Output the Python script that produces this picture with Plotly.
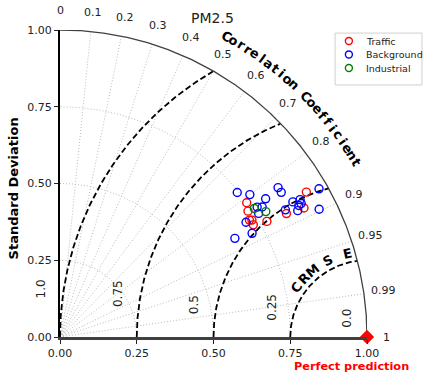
import numpy as np
import plotly.graph_objects as go

# ---------------- data (standard deviation, correlation) ----------------
traffic_std = [0.749, 0.737, 0.931, 0.899, 0.840, 0.772, 0.732, 0.728, 0.725]
traffic_corr = [0.812, 0.831, 0.862, 0.884, 0.878, 0.873, 0.854, 0.865, 0.851]

background_std = [0.745, 0.773, 0.807, 0.861, 0.861, 0.972, 0.877, 0.901, 0.898,
                  0.888, 0.877, 0.941, 0.843, 0.783, 0.762, 0.712, 0.711, 0.654, 0.769]
background_corr = [0.775, 0.800, 0.830, 0.825, 0.837, 0.868, 0.865, 0.868, 0.875,
                   0.876, 0.883, 0.897, 0.871, 0.841, 0.849, 0.851, 0.880, 0.871, 0.835]

industrial_std = [0.759, 0.785]
industrial_corr = [0.834, 0.854]

series_names = ["Traffic", "Background", "Industrial"]
series_colors = ["red", "blue", "green"]

corr_ticks = [0, 0.1, 0.2, 0.3, 0.4, 0.5, 0.6, 0.7, 0.8, 0.9, 0.95, 0.99, 1]
corr_tick_labels = ["0", "0.1", "0.2", "0.3", "0.4", "0.5", "0.6", "0.7", "0.8", "0.9", "0.95", "0.99", "1"]
std_ticks = [0, 0.25, 0.5, 0.75, 1.0]
std_tick_labels = ["0.00", "0.25", "0.50", "0.75", "1.00"]
std_arcs = [0.25, 0.5, 0.75]
crmse_radii = [0.25, 0.5, 0.75, 1.0]
crmse_labels = ["1.0", "0.75", "0.5", "0.25", "0.0"]
crmse_label_pos = [(-0.063, 0.157), (0.189, 0.140), (0.437, 0.104), (0.690, 0.098), (0.934, 0.062)]


def polar_xy(std, corr):
    std = np.asarray(std, float)
    corr = np.asarray(corr, float)
    return std * corr, std * np.sqrt(1 - corr ** 2)


fig = go.Figure()
GRID = dict(color="#a8a8a8", width=0.8, dash="1px,2px")

# radial correlation lines
rx, ry = [], []
for c in corr_ticks[1:-1]:
    th = np.arccos(c)
    rx += [0, np.cos(th), None]
    ry += [0, np.sin(th), None]
fig.add_trace(go.Scatter(x=rx, y=ry, mode="lines", line=GRID, hoverinfo="skip", showlegend=False))

# std arcs (grey dotted)
t = np.linspace(0, np.pi / 2, 200)
ax_, ay_ = [], []
for r in std_arcs:
    ax_ += list(r * np.cos(t)) + [None]
    ay_ += list(r * np.sin(t)) + [None]
fig.add_trace(go.Scatter(x=ax_, y=ay_, mode="lines", line=GRID, hoverinfo="skip", showlegend=False))

# CRMSE dashed arcs centred at (1,0)
cx, cy = [], []
for R in crmse_radii:
    xi = (2 - R ** 2) / 2
    phi_end = np.arctan2(np.sqrt(1 - xi ** 2), xi - 1)
    ph = np.linspace(np.pi, phi_end, 200)
    cx += list(1 + R * np.cos(ph)) + [None]
    cy += list(R * np.sin(ph)) + [None]
fig.add_trace(go.Scatter(x=cx, y=cy, mode="lines", line=dict(color="black", width=1.8, dash="6px,3px"),
                         hoverinfo="skip", showlegend=False))

# outer circle
tt = np.linspace(0, np.pi / 2, 300)
fig.add_trace(go.Scatter(x=np.cos(tt), y=np.sin(tt), mode="lines", line=dict(color="#404040", width=1.3),
                         hoverinfo="skip", showlegend=False))

# data points
for name, s, c, col in zip(series_names, [traffic_std, background_std, industrial_std],
                           [traffic_corr, background_corr, industrial_corr], series_colors):
    x, y = polar_xy(s, c)
    fig.add_trace(go.Scatter(x=x, y=y, mode="markers", name=name, showlegend=False,
                             marker=dict(symbol="circle-open", size=8, color=col, line=dict(width=1.4, color=col))))

# perfect prediction marker
fig.add_trace(go.Scatter(x=[1], y=[0], mode="markers", cliponaxis=False, showlegend=False,
                         marker=dict(symbol="diamond", size=11, color="red")))

ann = []


def A(x, y, text, size, color="#222", angle=0, xanchor="center"):
    ann.append(dict(x=x, y=y, xref="paper", yref="paper", text=text, showarrow=False, textangle=angle,
                    xanchor=xanchor, yanchor="middle", font=dict(size=size, color=color)))


# correlation tick labels
for c, lab in zip(corr_ticks, corr_tick_labels):
    th = np.arccos(c)
    A(1.063 * np.cos(th), 1.063 * np.sin(th), lab, 11)

# curved "Correlation Coefficient"
txt = "Correlation Coefficient"
angs = np.linspace(61.0, 30.5, len(txt))
for ch, a in zip(txt, angs):
    if ch == " ":
        continue
    ar = np.radians(a)
    A(1.12 * np.cos(ar), 1.12 * np.sin(ar), "<b>%s</b>" % ch, 13, "black", 90 - a)

# curved "CRMSE"
for ch, a in zip("CRMSE", [145, 137, 129, 117, 103]):
    ar = np.radians(a)
    A(1 + 0.28 * np.cos(ar), 0.28 * np.sin(ar), "<b>%s</b>" % ch, 13, "black", 90 - a)

# crmse value labels
for lab, (px, py) in zip(crmse_labels, crmse_label_pos):
    A(px, py, lab, 12, "#222", -90)

A(0.498, 1.039, "PM2.5", 14)
A(-0.152, 0.485, "<b>Standard Deviation</b>", 13, "black", -90)
A(0.951, -0.095, "<b>Perfect prediction</b>", 11.3, "red")

# manual legend (compact, like the reference)
leg_x0, leg_x1, leg_y0, leg_y1 = 0.896, 1.179, 0.821, 0.990
fig.add_shape(type="rect", xref="paper", yref="paper", x0=leg_x0, x1=leg_x1, y0=leg_y0, y1=leg_y1,
              line=dict(color="#d0d0d0", width=1), fillcolor="white", layer="below")
leg_rows = [0.964, 0.920, 0.876]
for name, col, yy in zip(series_names, series_colors, leg_rows):
    fig.add_trace(go.Scatter(x=[0.941], y=[yy], mode="markers", cliponaxis=False, showlegend=False,
                             hoverinfo="skip",
                             marker=dict(symbol="circle-open", size=7, color=col, line=dict(width=1.4, color=col))))
    A(0.99, yy, name, 9.5, "#222", 0, "left")

axis_common = dict(range=[0, 1], showgrid=False, zeroline=False, showline=True, ticks="outside", ticklen=4,
                   tickwidth=1, tickcolor="#222", tickvals=std_ticks, ticktext=std_tick_labels,
                   tickfont=dict(size=11, color="#222"), fixedrange=True)

fig.update_layout(
    width=440, height=374,
    margin=dict(l=60, r=73, t=30, b=37, autoexpand=False),
    paper_bgcolor="white", plot_bgcolor="rgba(0,0,0,0)",
    font=dict(family="DejaVu Sans"),
    xaxis=dict(axis_common, linecolor="#404040", linewidth=3),
    yaxis=dict(axis_common, linecolor="black", linewidth=2),
    annotations=ann,
    showlegend=False,
)

fig.write_html("out.html")
